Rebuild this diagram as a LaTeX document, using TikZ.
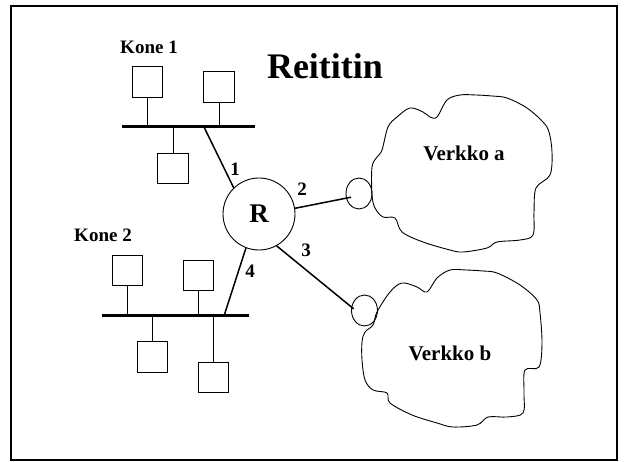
\documentclass[tikz,border=0pt]{standalone}
\usepackage{fontspec}
\setmainfont{Liberation Serif}
\usetikzlibrary{shapes.geometric}
\begin{document}
\begin{tikzpicture}[x=1pt,y=-1pt,
  host/.style={draw,line width=0.8pt,minimum width=30.5pt,minimum height=30.5pt,inner sep=0pt},
  bus/.style={line width=3pt},
  stub/.style={line width=0.8pt},
  link/.style={line width=1.5pt},
  port/.style={draw,ellipse,line width=0.9pt,minimum width=26pt,minimum height=31pt,inner sep=0pt},
  cloudline/.style={line width=0.9pt},
  lbl/.style={font=\bfseries\fontsize{19}{19}\selectfont,anchor=base,inner sep=0pt},
  netlbl/.style={font=\bfseries\fontsize{21}{21}\selectfont,anchor=base,inner sep=0pt},
]
\useasboundingbox (0,0) rectangle (624,462);
\draw[line width=2pt] (11,6.5) rectangle (617,459.5);

% title
\node[font=\bfseries\fontsize{36}{36}\selectfont,anchor=base,inner sep=0pt] (title) at (325,79) {Reititin};

% network 1
\node[lbl] (kone1) at (149,54) {Kone 1};
\coordinate (b1l) at (122,127);
\coordinate (b1r) at (255,127);
\coordinate (t1) at (204,127);
\draw[bus] (b1l) -- (b1r);
\node[host] (h11) at (147.5,82) {};
\node[host] (h12) at (219,87) {};
\node[host] (h13) at (173,168.5) {};
\draw[stub] (h11.south) -- (h11.south |- b1l);
\draw[stub] (h12.south) -- (h12.south |- b1l);
\draw[stub] (h13.north) -- (h13.north |- b1l);

% network 2
\node[lbl] (kone2) at (103,242) {Kone 2};
\coordinate (b2l) at (102,316);
\coordinate (b2r) at (249,316);
\coordinate (t4) at (224,316);
\draw[bus] (b2l) -- (b2r);
\node[host] (h21) at (127.5,270.5) {};
\node[host] (h22) at (198.5,275.5) {};
\node[host] (h23) at (152.5,357) {};
\node[host] (h24) at (213.5,377.5) {};
\draw[stub] (h21.south) -- (h21.south |- b2l);
\draw[stub] (h22.south) -- (h22.south |- b2l);
\draw[stub] (h23.north) -- (h23.north |- b2l);
\draw[stub] (h24.north) -- (h24.north |- b2l);

% router
\node[draw,circle,line width=0.9pt,minimum size=72pt,inner sep=0pt] (R) at (259,214) {};
\node[font=\bfseries\fontsize{27}{27}\selectfont,anchor=base,inner sep=0pt] (Rl) at (259,223) {R};

% ports
\node[port] (ca) at (359,193.5) {};
\node[port] (cb) at (364.5,310.5) {};

% clouds
\draw[cloudline] plot[smooth cycle,tension=0.55] coordinates {
 (437,117) (447,100) (460,95) (476,95) (492,96) (507,98) (527,108) (543,122) (549,132)
 (552,152) (550,175) (536,188) (534,212) (533,235) (520,240) (497,242) (487,248)
 (463,252) (450,250) (423,242) (402,232) (395,218) (383,217) (375,208) (372,195)
 (372,167) (377,157) (382,150) (388,127) (397,117) (410,108) (423,112) (430,117)};
\draw[cloudline] plot[smooth cycle,tension=0.55] coordinates {
 (427,292) (437,278) (450,270) (466,270) (483,271) (497,273) (520,285) (537,300) (540,313)
 (542,343) (539,367) (525,370) (524,393) (523,413) (507,417) (488,417) (477,425)
 (453,427) (437,423) (412,415) (390,403) (387,393) (373,390) (365,380) (362,360)
 (362,342) (365,332) (373,325) (377,312) (390,292) (402,283) (417,287)};

\node[netlbl] (va) at (464,161) {Verkko a};
\node[netlbl] (vb) at (450,360) {Verkko b};

% links
\draw[link] (t1) -- (R.134);
\draw[link,shorten >=-5pt] (R.9) -- (ca.200);
\draw[link,shorten >=-3pt] (R.299) -- (cb.165);
\draw[link] (R.249) -- (t4);

\node[lbl] (n1) at (235,176) {1};
\node[lbl] (n2) at (302,196) {2};
\node[lbl] (n3) at (306,257) {3};
\node[lbl] (n4) at (250,278) {4};
\end{tikzpicture}
\end{document}
